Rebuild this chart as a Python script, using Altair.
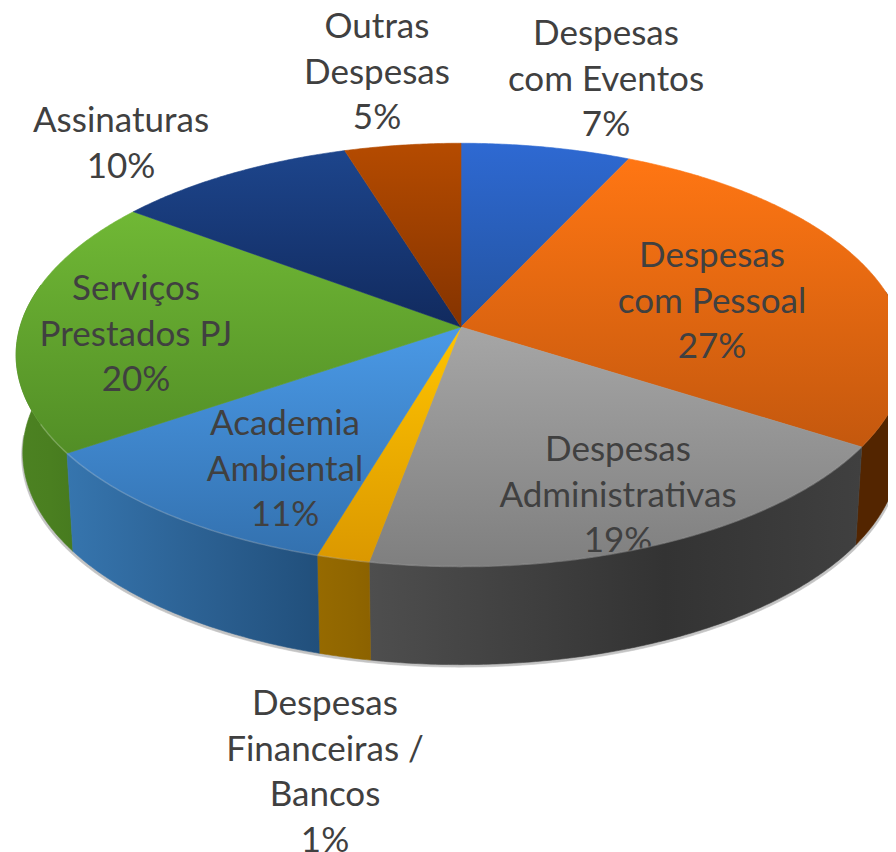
import math
import altair as alt

# Values (drawn shares; printed labels are the rounded ones)
names = ["Despesas\ncom Eventos\n7%", "Despesas\ncom Pessoal\n27%",
         "Despesas\nAdministrativas\n19%", "Despesas\nFinanceiras /\nBancos\n1%",
         "Academia\nAmbiental\n11%", "Serviços\nPrestados PJ\n20%",
         "Assinaturas\n10%", "Outras\nDespesas\n5%"]
shares = [7.0, 27.0, 18.9, 1.7, 10.9, 19.7, 10.0, 4.8]
top_light = ["#2E69D2", "#FF7613", "#A6A6A6", "#FFC400", "#4A99E6", "#70B835", "#1D458C", "#B54B00"]
top_dark = ["#2353A0", "#C4580E", "#7F7F7F", "#DB9800", "#3371AF", "#528E26", "#112A5E", "#843300"]
wall_left = ["#1B3E7A", "#532500", "#4E4E4E", "#966A00", "#3675AE", "#4C8222", "#0F2750", "#6A2A00"]
wall_mid = ["#1B3E7A", "#532500", "#333333", "#906600", "#2A5E8F", "#4A7F20", "#0F2750", "#6A2A00"]
wall_right = ["#1B3E7A", "#532500", "#404040", "#8C6200", "#214F7B", "#477B1F", "#0F2750", "#6A2A00"]
label_x = [606, 712, 618, 325, 285, 136, 121, 377]
label_y = [33, 255, 449, 703, 423, 288, 120, 26]

W, H = 880, 844
CX, CY = 453.0, 319.0   # pie centre in plot pixels
A, B, K = 441.0, 208.0, 0.132
DEPTH, SHRINK = 98.0, 0.985


def rim(deg):
    t = math.radians(deg)
    u, v = math.sin(t), math.cos(t)
    d = 1 + K * v
    return [CX + A * u / d, CY - B * v / d]


def low(p, dx=0.0, dy=0.0):
    return [CX + (p[0] - CX) * SHRINK + dx, p[1] + DEPTH + dy]


def arc(a0, a1):
    n = max(2, int(abs(a1 - a0) * 2) + 1)
    return [rim(a0 + (a1 - a0) * i / (n - 1)) for i in range(n)]


def poly(points):
    pts = points + [points[0]]
    return {"type": "Feature", "properties": {},
            "geometry": {"type": "Polygon", "coordinates": [pts]}}


def grad(c0, c1, mid=None, horizontal=False):
    stops = [alt.GradientStop(color=c0, offset=0)]
    if mid:
        stops.append(alt.GradientStop(color=mid, offset=0.6))
    stops.append(alt.GradientStop(color=c1, offset=1))
    return alt.Gradient(gradient="linear", stops=stops,
                        x1=0, y1=0, x2=1 if horizontal else 0, y2=0 if horizontal else 1)


def shape(feature, fill):
    return alt.Chart(alt.Data(values=[feature])).mark_geoshape(
        fill=fill, stroke=fill, strokeWidth=0.6, clip=True).project(
        type="identity", scale=1, translate=[0, 0])


edges = [0.0]
for s in shares:
    edges.append(edges[-1] + s * 3.6)
edges[-1] = 360.0


def wall(i, a0=None, a1=None):
    r = arc(edges[i] if a0 is None else a0, edges[i + 1] if a1 is None else a1)
    return shape(poly(r + [low(p) for p in reversed(r)]),
                 grad(wall_left[i], wall_right[i], wall_mid[i], True))


def face(i):
    return shape(poly([[CX, CY]] + arc(edges[i], edges[i + 1])), grad(top_light[i], top_dark[i]))


def shadow():
    r = arc(edges[2] - 20, edges[5] + 32)
    f = poly([low(p, -1.2 if p[0] < CX else 1.2, 2.5) for p in r] + [[CX, CY]])
    return shape(f, "#C4C4C4")


def highlight(a0, a1):
    f = {"type": "Feature", "properties": {},
         "geometry": {"type": "LineString", "coordinates": arc(a0, a1)}}
    return alt.Chart(alt.Data(values=[f])).mark_geoshape(
        filled=False, stroke="#FFFFFF", strokeWidth=1.5, strokeOpacity=0.2, clip=True).project(
        type="identity", scale=1, translate=[0, 0])


labels = alt.Chart(alt.Data(values=[
    {"name": n, "x": x - 8, "y": y - 7} for n, x, y in zip(names, label_x, label_y)
])).mark_text(font="Lato", fontSize=35, color="#404040", lineBreak="\n", lineHeight=45.5,
              align="center", baseline="middle").encode(
    x=alt.X("x:Q", scale=alt.Scale(domain=[0, W], range=[0, W]), axis=None),
    y=alt.Y("y:Q", scale=alt.Scale(domain=[0, H], range=[0, H]), axis=None),
    text="name:N")

layers = [shadow()]
layers += [wall(1, 80, edges[2]), wall(5, edges[5], 282)]
layers += [face(i) for i in range(len(shares))]
layers += [labels]
layers += [wall(2), wall(3), wall(4)]
layers += [highlight(edges[2], edges[5] + 8)]

chart = alt.layer(*layers).properties(
    width=W, height=H, padding=0, autosize=alt.AutoSizeParams(type="none")
).configure_view(stroke=None)

chart.save("out.html", embed_options={"renderer": "svg", "actions": False})
